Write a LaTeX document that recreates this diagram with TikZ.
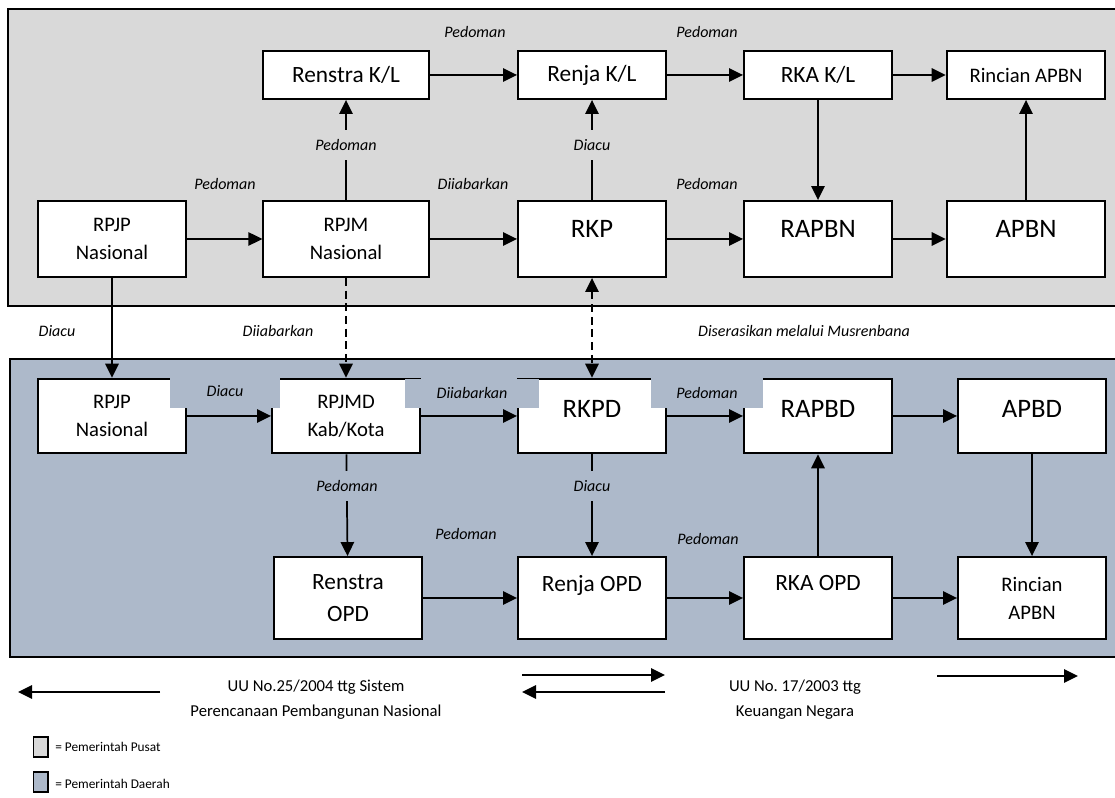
\documentclass[tikz,border=0pt]{standalone}
\usepackage{fontspec}
\setmainfont{Carlito}
\frenchspacing
\usetikzlibrary{arrows.meta}
\definecolor{pusat}{HTML}{D9D9D9}
\definecolor{daerah}{HTML}{ADB9CA}
\tikzset{
  >={Triangle[length=10.5pt,width=10pt]},
  panel/.style ={draw, line width=1.5pt},
  box/.style ={draw, fill=white, line width=1.4pt, align=center,
               inner sep=0pt, minimum width=111pt},
  wide/.style ={box, minimum width=124pt},
  last/.style ={box, minimum width=119pt},
  rowa/.style ={minimum height=36pt},
  rowb/.style ={minimum height=57pt},
  rowc/.style ={minimum height=56pt},
  rowd/.style ={minimum height=61.5pt},
  upper/.style ={text depth=#1},
  fbig/.style ={font=\fontsize{20}{24}\selectfont},
  fmid/.style ={font=\fontsize{17.5}{24}\selectfont},
  fsmall/.style ={font=\fontsize{15.5}{21}\selectfont},
  link/.style ={->, line width=1.3pt},
  dashlink/.style ={link, dash pattern=on 6pt off 3.5pt},
  lbl/.style ={font=\fontsize{12}{13}\selectfont\itshape, inner sep=0pt},
  lbltop/.style ={lbl, fill=pusat, inner xsep=2pt, inner ysep=7pt},
  lblbot/.style ={lbl, fill=daerah, inner xsep=2pt, inner ysep=7pt},
  patch/.style ={lbl, fill=daerah},
  note/.style ={font=\fontsize{12.5}{18.75}\selectfont, align=center},
  key/.style ={draw, line width=1pt, minimum width=11pt,
               minimum height=15pt, inner sep=0pt},
  keytext/.style ={font=\fontsize{10}{11}\selectfont, anchor=west, inner sep=0pt},
}
\begin{document}
\begin{tikzpicture}[x=0.75pt,y=-0.75pt]
\useasboundingbox (0,0) rectangle (1115,798);
% panels
\draw[panel, fill=pusat] (8,9) rectangle (1118,306);
\draw[panel, fill=daerah] (10,359) rectangle (1118,657);

% pemerintah pusat
\node[wide, rowa, fmid] (renstrakl) at (346,75) {Renstra K/L};
\node[box, rowa, fmid] (renjakl) at (592,75) {Renja K/L};
\node[box, rowa, fmid] (rkakl) at (818,75) {RKA K/L};
\node[last, rowa, fsmall] (rincianpusat) at (1026,75) {Rincian APBN};
\node[box, rowb, fsmall] (rpjpn) at (112,239) {RPJP\\Nasional};
\node[wide, rowb, fsmall] (rpjmn) at (346,239) {RPJM\\Nasional};
\node[box, rowb, fbig, upper=15pt] (rkp) at (592,239) {RKP};
\node[box, rowb, fbig, upper=15pt] (rapbn) at (818,239) {RAPBN};
\node[last, rowb, fbig, upper=15pt] (apbn) at (1026,239) {APBN};

% pemerintah daerah
\node[box, rowc, fsmall] (rpjpd) at (112,416) {RPJP\\Nasional};
\node[box, rowc, fsmall] (rpjmd) at (346,416) {RPJMD\\Kab/Kota};
\node[box, rowc, fbig, upper=11pt] (rkpd) at (592,416) {RKPD};
\node[box, rowc, fbig, upper=11pt] (rapbd) at (818,416) {RAPBD};
\node[box, rowc, fbig, upper=11pt] (apbd) at (1032,416) {APBD};
\node[box, rowd, fmid] (renstraopd) at (348,598) {Renstra\\OPD};
\node[box, rowd, fmid, upper=22.5pt] (renjaopd) at (592,598) {Renja OPD};
\node[box, rowd, fmid, upper=22.5pt] (rkaopd) at (818,598) {RKA OPD};
\node[box, rowd, fsmall] (rinciandaerah) at (1032,598) {Rincian\\APBN};

% label patches over the boxes
\node[patch, minimum width=82.5pt, minimum height=24.75pt] (pdiacu) at (225,391.5) {Diacu};
\node[patch, minimum width=100.5pt, minimum height=21.75pt] (pjabar) at (472,393.5) {Diiabarkan};
\node[patch, minimum width=84pt, minimum height=22.5pt] (ppedoman) at (707,393) {Pedoman};

\path[link]
        (renstrakl) edge (renjakl)
        (renjakl) edge (rkakl)
        (rkakl) edge (rincianpusat)
            edge (rapbn)
        (rpjpn) edge (rpjmn)
            edge (rpjpd)
        (rpjmn) edge (rkp)
            edge (renstrakl)
        (rkp) edge (rapbn)
            edge (renjakl)
        (rapbn) edge (apbn)
        (apbn) edge (rincianpusat)
        (rpjpd) edge (rpjmd)
        (rpjmd) edge (rkpd)
            edge (renstraopd)
        (rkpd) edge (rapbd)
            edge (renjaopd)
        (rapbd) edge (apbd)
        (apbd) edge (rinciandaerah)
        (renstraopd) edge (renjaopd)
        (renjaopd) edge (rkaopd)
        (rkaopd) edge (rinciandaerah)
            edge (rapbd);
\path[dashlink]
        (rpjmn) edge (rpjmd)
        (rkp) edge[<->] (rkpd);

% labels
\node[lbl] (l1) at (475,32) {Pedoman};
\node[lbl] (l2) at (707,32) {Pedoman};
\node[lbltop] (l3) at (346,145) {Pedoman};
\node[lbl] (l4) at (225,184) {Pedoman};
\node[lbl] (l5) at (473,184) {Diiabarkan};
\node[lbltop] (l6) at (592,145) {Diacu};
\node[lbl] (l7) at (707,184) {Pedoman};
\node[lbl] (l8) at (57,331) {Diacu};
\node[lbl] (l9) at (278,331) {Diiabarkan};
\node[lbl] (l10) at (804,331) {Diserasikan melalui Musrenbana};
\node[lblbot] (l14) at (347,486) {Pedoman};
\node[lbl] (l15) at (466,534) {Pedoman};
\node[lblbot] (l16) at (592,486) {Diacu};
\node[lbl] (l17) at (708,539) {Pedoman};

% undang-undang
\coordinate (uuA) at (160,692);
\coordinate (uuB) at (18,692);
\coordinate (uuC) at (522,675);
\coordinate (uuD) at (665,675);
\coordinate (uuE) at (665,692);
\coordinate (uuF) at (522,692);
\coordinate (uuG) at (937,676);
\coordinate (uuH) at (1078,676);
\draw[link] (uuA) -- (uuB);
\draw[link] (uuC) -- (uuD);
\draw[link] (uuE) -- (uuF);
\draw[link] (uuG) -- (uuH);
\node[note] (uu25) at (316,700) {UU No.25/2004 ttg Sistem\\Perencanaan Pembangunan Nasional};
\node[note] (uu17) at (795,700) {UU No. 17/2003 ttg\\Keuangan Negara};

% legend
\node[key, fill=pusat] (keypusat) at (40.5,747) {};
\node[key, fill=daerah] (keydaerah) at (40.5,782) {};
\node[keytext] (txtpusat) at (55,747) {= Pemerintah Pusat};
\node[keytext] (txtdaerah) at (55,784) {= Pemerintah Daerah};
\end{tikzpicture}
\end{document}
